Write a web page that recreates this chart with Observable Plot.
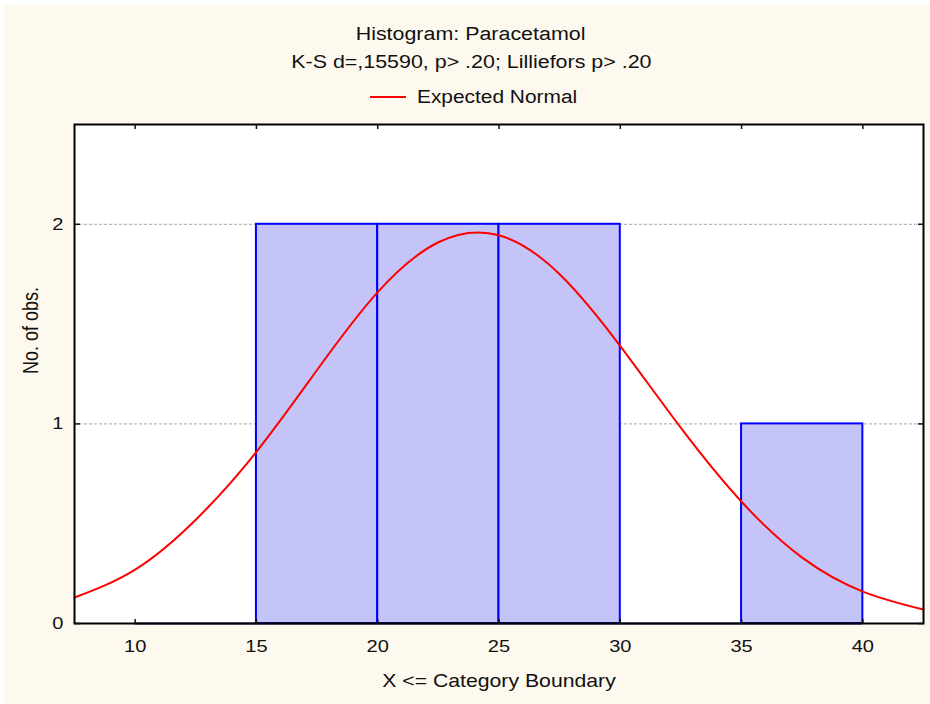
<!DOCTYPE html>
<html>
<head>
<meta charset="utf-8">
<script src="https://cdn.jsdelivr.net/npm/d3@7"></script>
<script src="https://cdn.jsdelivr.net/npm/@observablehq/plot@0.6"></script>
<style>
  html, body { margin: 0; padding: 0; background: #fff; }
  #wrap {
    position: relative; width: 930px; height: 704px; overflow: hidden;
    background:
      linear-gradient(#fff, #fff) top left / 100% 5px no-repeat,
      linear-gradient(#fff, #fff) top left / 4px 100% no-repeat,
      #fdf9ee;
    font-family: "Liberation Sans", Arial, sans-serif; color: #111;
  }
  #head { position: relative; height: 118px; }
  .ln { position: absolute; left: 0; width: 942px; text-align: center;
        font-size: 18px; line-height: 18px; white-space: nowrap; }
  .ln span { display: inline-block; transform: scaleX(1.19); transform-origin: center; }
  #legLine { position: absolute; left: 370px; top: 96px; width: 36px; height: 2px; background: #ff0000; }
  #legText { position: absolute; left: 417px; top: 88px; font-size: 18px; line-height: 18px;
             white-space: nowrap; transform: scaleX(1.16); transform-origin: left center; }
  #chart svg { display: block; }
</style>
</head>
<body>
<div id="wrap">
  <div id="head">
    <div class="ln" id="t1" style="top:25px"><span></span></div>
    <div class="ln" id="t2" style="top:53px"><span></span></div>
    <div id="legLine"></div>
    <div id="legText"></div>
  </div>
  <div id="chart"></div>
</div>
<script>
// ---- texts ----
const title = "Histogram: Paracetamol";
const subtitle = "K-S d=,15590, p> .20; Lilliefors p> .20";
const legendLabel = "Expected Normal";
const xLabel = "X <= Category Boundary";
const yLabel = "No. of obs.";

// ---- histogram bins (category boundaries) ----
const binLower = [10, 15, 20, 25, 30, 35];
const binUpper = [15, 20, 25, 30, 35, 40];
const binCount = [0, 2, 2, 2, 0, 1];

// ---- expected normal curve ----
const curveX = [7.5, 10, 12.5, 15, 17.5, 20, 22.5, 25, 27.5, 30, 32.5, 35, 37.5, 40, 42.5];
const curveY = [0.13, 0.27, 0.52, 0.86, 1.27, 1.66, 1.91, 1.945, 1.75, 1.39, 0.98, 0.61, 0.33, 0.16, 0.07];

// ---- axes ----
const xTicks = [10, 15, 20, 25, 30, 35, 40];
const yTicks = [0, 1, 2];
const gridTicks = [1, 2];
const xDomain = [7.5, 42.5];
const yDomain = [0, 2.5];

document.querySelector("#t1 span").textContent = title;
document.querySelector("#t2 span").textContent = subtitle;
document.querySelector("#legText").textContent = legendLabel;

const bins = binLower.map((x1, i) => ({x1, x2: binUpper[i], count: binCount[i]}));
const curve = curveX.map((x, i) => ({x, y: curveY[i]}));

const plot = Plot.plot({
  width: 930,
  height: 586,
  marginTop: 6,
  marginBottom: 81,
  marginLeft: 74,
  marginRight: 7,
  x: {domain: xDomain, ticks: xTicks},
  y: {domain: yDomain, ticks: yTicks},
  style: {
    fontFamily: '"Liberation Sans", Arial, sans-serif',
    fontSize: "17px",
    color: "#111",
    background: "transparent",
    overflow: "visible"
  },
  marks: [
    Plot.frame({fill: "#ffffff", stroke: null}),
    Plot.gridY(gridTicks, {stroke: "#a8a8a8", strokeOpacity: 1, strokeDasharray: "3,2"}),
    Plot.rectY(bins.filter(d => d.count > 0), {
      x1: "x1", x2: "x2", y: "count",
      fill: "#c4c4f8", stroke: "#0000ff", strokeWidth: 2
    }),
    Plot.ruleY(bins, {x1: "x1", x2: "x2", y: 0, stroke: "#1a1a70", strokeWidth: 2}),
    Plot.line(curve, {x: "x", y: "y", stroke: "#ff0000", strokeWidth: 2, curve: "natural"}),
    Plot.frame({stroke: "#000", strokeWidth: 2}),
    // tick labels
    Plot.axisX(xTicks, {anchor: "bottom", tickSize: 0, tickPadding: 16, fontSize: 17, tickFormat: d => String(d), label: null}),
    Plot.axisY(yTicks, {anchor: "left", tickSize: 0, tickPadding: 11, fontSize: 17, tickFormat: d => String(d), label: null}),
    // inward ticks on all four sides
    Plot.axisX(xTicks, {anchor: "top", frameAnchor: "bottom", tickSize: 5, strokeWidth: 1.5, fill: "none", label: null}),
    Plot.axisX(xTicks, {anchor: "bottom", frameAnchor: "top", tickSize: 5, strokeWidth: 1.5, fill: "none", label: null}),
    Plot.axisY(yTicks, {anchor: "right", frameAnchor: "left", tickSize: 5, strokeWidth: 1.5, fill: "none", label: null}),
    Plot.axisY(yTicks, {anchor: "left", frameAnchor: "right", tickSize: 5, strokeWidth: 1.5, fill: "none", label: null}),
    // axis titles
    Plot.text([xLabel], {text: d => d, frameAnchor: "bottom", dy: 63, fontSize: 18}),
    Plot.text([yLabel], {text: d => d, frameAnchor: "left", rotate: -90, dx: -43, fontSize: 18})
  ]
});

// widen glyphs slightly, like the reference rendering
const S = 1.18;
plot.querySelectorAll("text").forEach(t => {
  const tr = t.getAttribute("transform") || "";
  const x = parseFloat(t.getAttribute("x")) || 0;
  const y = parseFloat(t.getAttribute("y")) || 0;
  const extra = /rotate/.test(tr)
    ? `translate(0,${y}) scale(1,${S}) translate(0,${-y})`
    : `translate(${x},0) scale(${S},1) translate(${-x},0)`;
  t.setAttribute("transform", (tr + " " + extra).trim());
});

document.getElementById("chart").appendChild(plot);
</script>
</body>
</html>
